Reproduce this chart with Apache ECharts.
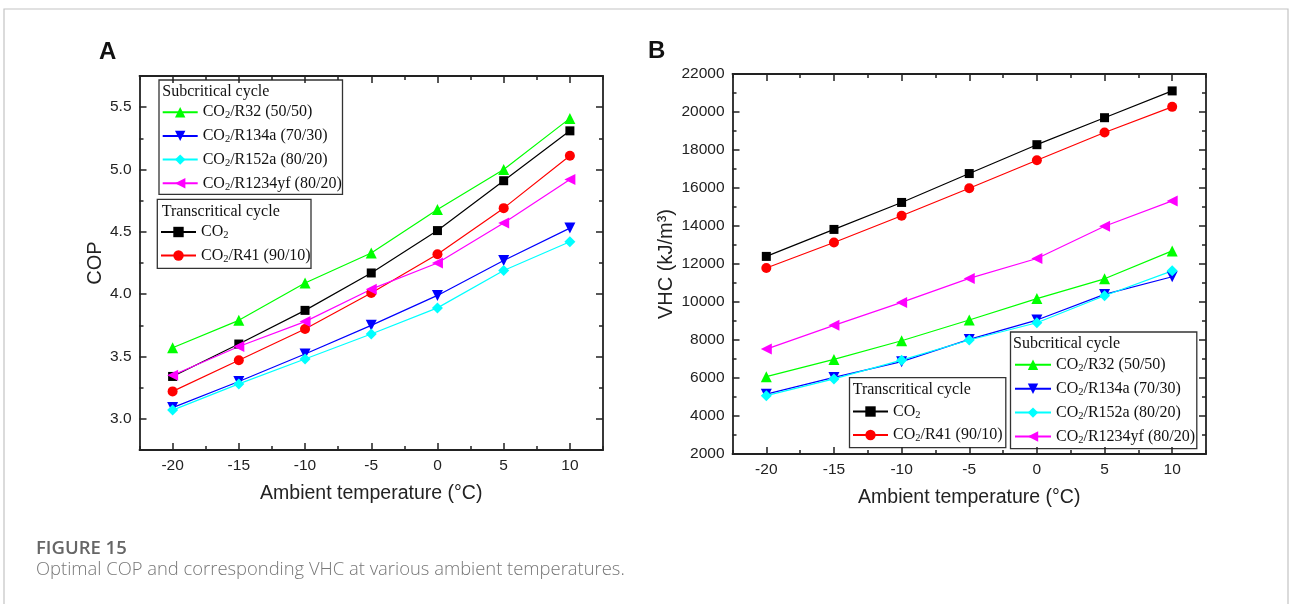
<!DOCTYPE html>
<html>
<head>
<meta charset="utf-8">
<script src="https://cdn.jsdelivr.net/npm/echarts@6/dist/echarts.min.js"></script>
<style>
html,body{margin:0;padding:0;background:#fff;}
#chart{width:1290px;height:604px;}
</style>
</head>
<body>
<div id="chart"></div>
<script>
// ---- data ----
const temps = [-20, -15, -10, -5, 0, 5, 10];
const seriesNames = ['CO2', 'CO2/R41 (90/10)', 'CO2/R32 (50/50)', 'CO2/R134a (70/30)', 'CO2/R152a (80/20)', 'CO2/R1234yf (80/20)'];
// COP (panel A)
const copCO2     = [3.34, 3.60, 3.87, 4.17, 4.51, 4.91, 5.31];
const copR41     = [3.22, 3.47, 3.72, 4.01, 4.32, 4.69, 5.11];
const copR32     = [3.57, 3.79, 4.09, 4.33, 4.68, 5.00, 5.41];
const copR134a   = [3.09, 3.30, 3.52, 3.75, 3.99, 4.27, 4.53];
const copR152a   = [3.07, 3.28, 3.48, 3.68, 3.89, 4.19, 4.42];
const copR1234yf = [3.35, 3.58, 3.78, 4.04, 4.25, 4.57, 4.92];
// VHC (panel B), kJ/m3
const vhcCO2     = [12400, 13820, 15240, 16760, 18280, 19700, 21110];
const vhcR41     = [11790, 13130, 14540, 15990, 17460, 18920, 20270];
const vhcR32     = [6070, 6980, 7960, 9050, 10180, 11220, 12690];
const vhcR134a   = [5150, 6030, 6860, 8030, 9050, 10400, 11330];
const vhcR152a   = [5070, 5950, 6940, 8000, 8910, 10330, 11640];
const vhcR1234yf = [7520, 8770, 9980, 11240, 12290, 13990, 15320];
const legendSub = ['CO2/R32 (50/50)', 'CO2/R134a (70/30)', 'CO2/R152a (80/20)', 'CO2/R1234yf (80/20)'];
const legendTrans = ['CO2', 'CO2/R41 (90/10)'];

// ---- styles ----
const colors = ['#000000', '#ff0000', '#00ff00', '#0000ff', '#00ffff', '#ff00ff'];
const symbols = ['rect', 'circle', 'triangle', 'triangle', 'diamond', 'triangle'];
const symRot = [0, 0, 0, 180, 0, 90];
const symSize = [9, 10, 11, 11, 11, 11];
const AX = '#222';
const serif = 'Liberation Serif';
const sans = 'Liberation Sans';
const LW = 1.8;
const TW = 1.5;

// plot frames (px)
const G0 = { left: 139.5, top: 76, width: 463.5, height: 374 };
const G1 = { left: 732.5, top: 74, width: 473.5, height: 380 };
const X_MIN = -22.5, X_MAX = 12.5;
const ppx0 = G0.width / (X_MAX - X_MIN);
const ppx1 = G1.width / (X_MAX - X_MIN);
const ppy0 = G0.height / 3;

function pair(xs, ys) { return xs.map((x, i) => [x, ys[i]]); }

function xLabelAxis(grid, name) {
  return {
    type: 'value', gridIndex: grid, position: 'bottom', min: X_MIN, max: X_MAX, interval: 2.5,
    axisLine: { show: true, onZero: false, lineStyle: { color: AX, width: LW } },
    axisTick: { show: true, inside: true, length: 4, lineStyle: { color: AX, width: TW } },
    splitLine: { show: false },
    axisLabel: { fontFamily: sans, fontSize: 15.5, color: AX, margin: 8,
      formatter: v => (Math.abs(v % 5) < 1e-9 ? String(Math.round(v)) : '') },
    name: name, nameLocation: 'middle', nameGap: 34,
    nameTextStyle: { fontFamily: sans, fontSize: 19.5, color: AX }
  };
}
function xMirror(grid) {
  return {
    type: 'value', gridIndex: grid, position: 'top', min: X_MIN, max: X_MAX, interval: 2.5,
    axisLine: { show: true, onZero: false, lineStyle: { color: AX, width: LW } },
    axisTick: { show: true, inside: true, length: 4, lineStyle: { color: AX, width: TW } },
    axisLabel: { show: false }, splitLine: { show: false }
  };
}
function xMajor(grid, pos) {
  return {
    type: 'value', gridIndex: grid, position: pos, min: -20, max: 10, interval: 5,
    axisLine: { show: false, onZero: false },
    axisTick: { show: true, inside: true, length: 7, lineStyle: { color: AX, width: TW } },
    axisLabel: { show: false }, splitLine: { show: false }
  };
}
function hiddenAxis(grid, min, max) {
  return { type: 'value', gridIndex: grid, show: false, min: min, max: max,
    axisLine: { onZero: false }, splitLine: { show: false } };
}
function yMajorCop(pos) {
  return {
    type: 'value', gridIndex: 3, position: pos, min: 3.0, max: 5.5, interval: 0.5,
    axisLine: { show: false, onZero: false },
    axisTick: { show: true, inside: true, length: 7, lineStyle: { color: AX, width: TW } },
    axisLabel: { show: false }, splitLine: { show: false }
  };
}
function yVhc(pos, labels, interval, len) {
  const a = {
    type: 'value', gridIndex: 1, position: pos, min: 2000, max: 22000, interval: interval,
    axisLine: { show: interval === 1000, onZero: false, lineStyle: { color: AX, width: LW } },
    axisTick: { show: true, inside: true, length: len, lineStyle: { color: AX, width: TW } },
    axisLabel: { show: false }, splitLine: { show: false }
  };
  if (labels) {
    a.axisLabel = { show: true, fontFamily: sans, fontSize: 15.5, color: AX, margin: 8,
      formatter: v => (v % 2000 === 0 ? String(v) : '') };
    a.name = 'VHC (kJ/m³)';
    a.nameLocation = 'middle';
    a.nameGap = 56;
    a.nameTextStyle = { fontFamily: sans, fontSize: 20, color: AX };
  }
  return a;
}

const series = [];
const copData = [copCO2, copR41, copR32, copR134a, copR152a, copR1234yf];
const vhcData = [vhcCO2, vhcR41, vhcR32, vhcR134a, vhcR152a, vhcR1234yf];
[copData, vhcData].forEach((set, g) => {
  set.forEach((vals, i) => {
    series.push({
      type: 'line', name: seriesNames[i],
      xAxisIndex: g === 0 ? 0 : 5, yAxisIndex: g === 0 ? 0 : 5,
      data: pair(temps, vals),
      symbol: symbols[i], symbolRotate: symRot[i], symbolSize: symSize[i],
      showAllSymbol: true,
      lineStyle: { color: colors[i], width: 1.2 },
      itemStyle: { color: colors[i], borderWidth: 0 },
      emphasis: { disabled: true },
      animation: false
    });
  });
});

function fmtName(n) {
  return '{a|CO}{b|2}{a|' + n.slice(3) + '}';
}
const legRich = {
  a: { fontFamily: serif, fontSize: 16, color: '#111', lineHeight: 18 },
  b: { fontFamily: serif, fontSize: 10.5, color: '#111', lineHeight: 10, verticalAlign: 'bottom' }
};
function legend(data, left, top, gap, iw) {
  return {
    data: data, orient: 'vertical', left: left, top: top, padding: 0,
    itemGap: gap, itemWidth: iw, itemHeight: 13, selectedMode: false,
    formatter: fmtName,
    textStyle: { rich: legRich, fontFamily: serif, fontSize: 16 }
  };
}

function boxText(x, y, txt) {
  return { type: 'text', left: x, top: y, style: { text: txt, font: '16px "Liberation Serif"', fill: '#111' } };
}
function boxRect(x, y, w, h) {
  return { type: 'rect', shape: { x: x, y: y, width: w, height: h }, style: { fill: '#fff', stroke: '#333', lineWidth: 1.3 }, z: 0 };
}

const option = {
  animation: false,
  backgroundColor: '#fff',
  grid: [
    G0,
    G1,
    { left: G0.left + 2.5 * ppx0, top: G0.top, width: 30 * ppx0, height: G0.height },
    { left: G0.left, top: G0.top + 0.25 * ppy0, width: G0.width, height: 2.5 * ppy0 },
    { left: G1.left + 2.5 * ppx1, top: G1.top, width: 30 * ppx1, height: G1.height }
  ],
  xAxis: [
    xLabelAxis(0, 'Ambient temperature (°C)'),   // 0
    xMirror(0),                                  // 1
    xMajor(2, 'bottom'),                         // 2
    xMajor(2, 'top'),                            // 3
    hiddenAxis(3, X_MIN, X_MAX),                 // 4
    xLabelAxis(1, 'Ambient temperature (°C)'),   // 5
    xMirror(1),                                  // 6
    xMajor(4, 'bottom'),                         // 7
    xMajor(4, 'top')                             // 8
  ],
  yAxis: [
    { type: 'value', gridIndex: 0, position: 'left', min: 2.75, max: 5.75, interval: 0.25,
      axisLine: { show: true, onZero: false, lineStyle: { color: AX, width: LW } },
      axisTick: { show: true, inside: true, length: 4, lineStyle: { color: AX, width: TW } },
      splitLine: { show: false },
      axisLabel: { fontFamily: sans, fontSize: 15.5, color: AX, margin: 8,
        formatter: v => (Math.abs(v * 2 - Math.round(v * 2)) < 1e-9 ? v.toFixed(1) : '') },
      name: 'COP', nameLocation: 'middle', nameGap: 34,
      nameTextStyle: { fontFamily: sans, fontSize: 20, color: AX } },       // 0
    { type: 'value', gridIndex: 0, position: 'right', min: 2.75, max: 5.75, interval: 0.25,
      axisLine: { show: true, onZero: false, lineStyle: { color: AX, width: LW } },
      axisTick: { show: true, inside: true, length: 4, lineStyle: { color: AX, width: TW } },
      axisLabel: { show: false }, splitLine: { show: false } },               // 1
    hiddenAxis(2, 2.75, 5.75),                                                // 2
    yMajorCop('left'),                                                        // 3
    yMajorCop('right'),                                                       // 4
    yVhc('left', true, 1000, 4),                                              // 5
    yVhc('right', false, 1000, 4),                                            // 6
    yVhc('left', false, 2000, 7),                                             // 7
    yVhc('right', false, 2000, 7),                                            // 8
    hiddenAxis(4, 2000, 22000)                                                // 9
  ],
  legend: [
    legend(legendSub, 161.7, 104.2, 6.7, 35),
    legend(legendTrans, 160, 224, 6.5, 35),
    legend(legendTrans, 852, 403.5, 6.5, 35),
    legend(legendSub, 1014, 356.8, 6.9, 36)
  ],
  graphic: [
    { type: 'rect', shape: { x: 4, y: 9, width: 1284, height: 620 }, style: { fill: null, stroke: '#c4c4c4', lineWidth: 1.2 }, silent: true },
    boxRect(159, 80, 183.5, 114.3),
    boxText(162.3, 83.7, 'Subcritical cycle'),
    boxRect(157.3, 199.3, 153.7, 69),
    boxText(161.7, 203.7, 'Transcritical cycle'),
    boxRect(849.5, 377.7, 156.3, 70),
    boxText(852.7, 382, 'Transcritical cycle'),
    boxRect(1010.5, 332, 186.3, 116.7),
    boxText(1013, 335.3, 'Subcritical cycle'),
    { type: 'text', left: 99, top: 40, style: { text: 'A', font: 'bold 24px "Liberation Sans"', fill: '#111' } },
    { type: 'text', left: 648, top: 39, style: { text: 'B', font: 'bold 24px "Liberation Sans"', fill: '#111' } },
    { type: 'text', left: 36, top: 539, style: { text: 'FIGURE 15', font: '600 18.5px "Open Sans"', fill: '#666' } },
    { type: 'text', left: 36, top: 561, style: { text: 'Optimal COP and corresponding VHC at various ambient temperatures.', font: '300 18.4px "Open Sans"', fill: '#777' } }
  ],
  series: series
};
const chart = echarts.init(document.getElementById('chart'), null, { renderer: 'canvas' });
chart.setOption(option);
</script>
</body>
</html>
